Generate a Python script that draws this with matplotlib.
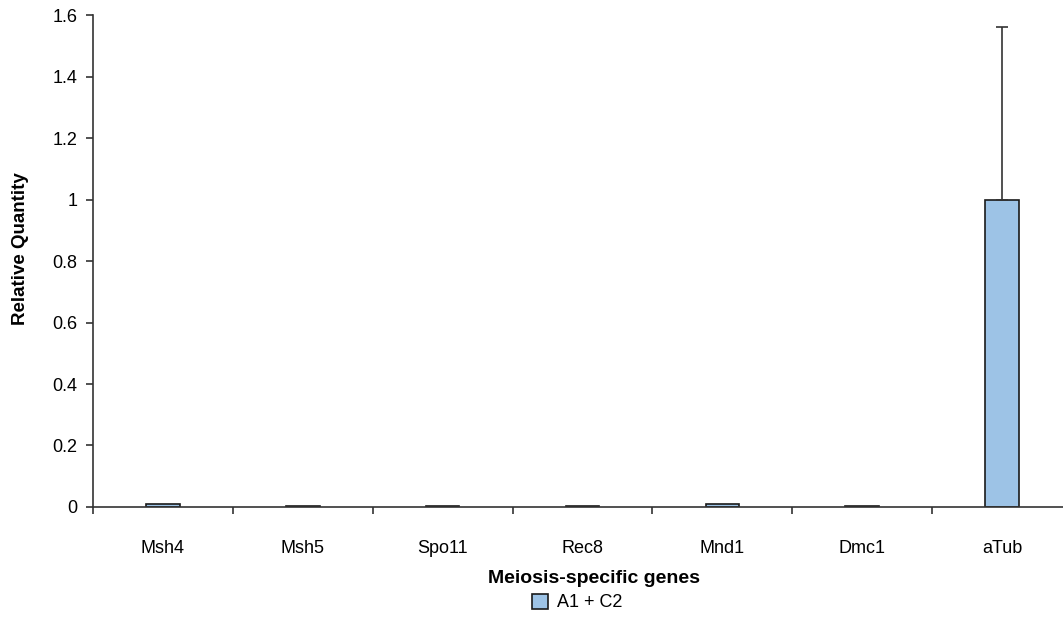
import numpy as np
import matplotlib.pyplot as plt
from matplotlib.ticker import FixedLocator

plt.rcParams['font.family'] = ['Liberation Sans', 'DejaVu Sans']

genes = ['Msh4', 'Msh5', 'Spo11', 'Rec8', 'Mnd1', 'Dmc1', 'aTub']
rel_qty = [0.010, 0.002, 0.002, 0.002, 0.010, 0.002, 1.0]
err_up = [0.0, 0.0, 0.0, 0.0, 0.0, 0.0, 0.56]

fig = plt.figure(figsize=(10.63, 6.23), dpi=100)
ax = fig.add_axes([0.0875, 0.1862, 0.921, 0.7897])

x = np.arange(len(genes))
ax.bar(x, rel_qty, width=0.24, color='#9dc3e6', edgecolor='#1a1a1a',
       linewidth=1.2, label='A1 + C2', zorder=2)
ax.errorbar(x[-1], rel_qty[-1], yerr=[[0], [err_up[-1]]], fmt='none',
            ecolor='#333333', elinewidth=1.2, capsize=4, capthick=1.2, zorder=3)

ax.set_xlim(-0.5, len(genes) - 0.5)
ax.set_ylim(0, 1.6)
ax.set_yticks(np.arange(0, 1.61, 0.2))
ax.set_yticklabels(['0', '0.2', '0.4', '0.6', '0.8', '1', '1.2', '1.4', '1.6'])

ax.set_xticks(x)
ax.set_xticklabels(genes)
ax.xaxis.set_minor_locator(FixedLocator(np.arange(-0.5, len(genes), 1.0)))
ax.tick_params(axis='x', which='major', length=0, pad=24, labelsize=13)
ax.tick_params(axis='x', which='minor', length=5, width=1.2, color='#333333')
ax.tick_params(axis='y', length=5, width=1.2, color='#333333', pad=6, labelsize=13)

for side in ['top', 'right']:
    ax.spines[side].set_visible(False)
for side in ['left', 'bottom']:
    ax.spines[side].set_color('#333333')
    ax.spines[side].set_linewidth(1.2)

ax.set_ylabel('Relative Quantity', fontsize=13.5, fontweight='bold', labelpad=17)
ax.yaxis.label.set_y(0.526)
ax.set_xlabel('Meiosis-specific genes', fontsize=14, fontweight='bold', labelpad=9)
ax.xaxis.label.set_x(0.512)

fig.legend(loc='center', bbox_to_anchor=(0.543, 0.033), frameon=False,
           fontsize=13, handlelength=0.9, handleheight=0.9, handletextpad=0.5)

fig.savefig('out.png', dpi=100)
